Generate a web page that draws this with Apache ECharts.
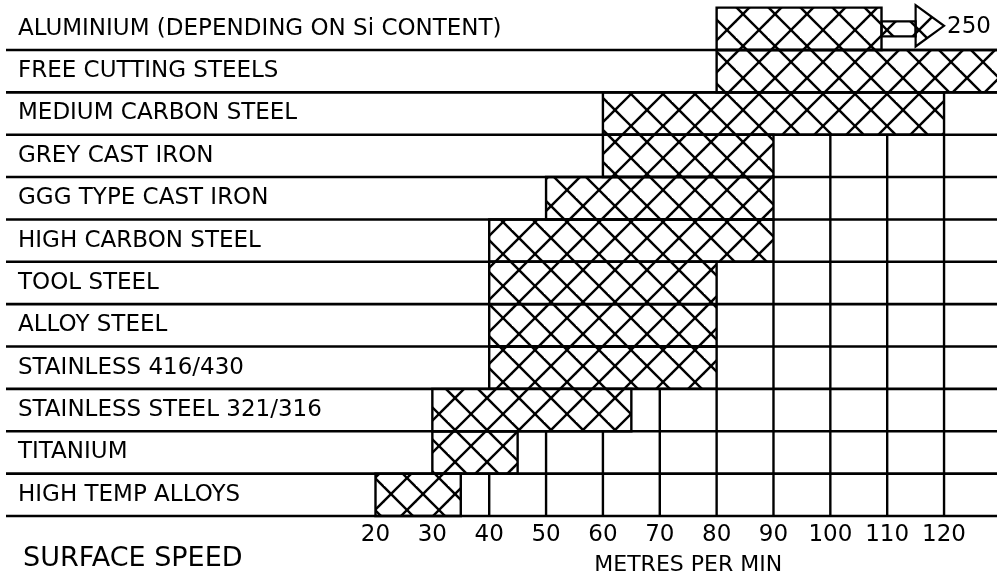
<!DOCTYPE html>
<html>
<head>
<meta charset="utf-8">
<script src="https://cdn.jsdelivr.net/npm/echarts@6.0.0/dist/echarts.min.js"></script>
<style>
  html, body { margin: 0; padding: 0; background: #fff; }
  #chart { width: 997px; height: 581px; }
</style>
</head>
<body>
<div id="chart"></div>
<script>
// data (metres per min)
const materials = [
  'ALUMINIUM (DEPENDING ON Si CONTENT)',
  'FREE CUTTING STEELS',
  'MEDIUM CARBON STEEL',
  'GREY CAST IRON',
  'GGG TYPE CAST IRON',
  'HIGH CARBON STEEL',
  'TOOL STEEL',
  'ALLOY STEEL',
  'STAINLESS 416/430',
  'STAINLESS STEEL 321/316',
  'TITANIUM',
  'HIGH TEMP ALLOYS'
];
const speedFrom = [80, 80, 60, 60, 50, 40, 40, 40, 40, 30, 30, 20];
const speedTo = [109, 130, 120, 90, 90, 90, 80, 80, 80, 65, 45, 35];
const tickValues = [20, 30, 40, 50, 60, 70, 80, 90, 100, 110, 120];

// aluminium runs off the chart: arrow pointing to 250
const arrowRow = 0;
const arrowHeadAt = 115;
const arrowTipAt = 120;
const arrowLabel = '250';

const ink = '#000';
const font = 'DejaVu Sans';

// cross hatch tile
const hatchTile = document.createElement('canvas');
hatchTile.width = 32;
hatchTile.height = 32;
(function () {
  const ctx = hatchTile.getContext('2d');
  ctx.strokeStyle = ink;
  ctx.lineWidth = 2.4;
  for (let k = -2; k <= 2; k++) {
    ctx.beginPath();
    ctx.moveTo(-4, -4 + 7 + 32 * k);
    ctx.lineTo(36, 36 + 7 + 32 * k);
    ctx.stroke();
    ctx.beginPath();
    ctx.moveTo(-4, 4 + 21 + 32 * k);
    ctx.lineTo(36, -36 + 21 + 32 * k);
    ctx.stroke();
  }
})();
const hatch = { image: hatchTile, repeat: 'repeat' };

const rows = materials.map((m, i) => [i, speedFrom[i], speedTo[i]]);

function renderRow(params, api) {
  const row = api.value(0);
  const from = api.coord([api.value(1), row]);
  const to = api.coord([api.value(2), row]);
  const h = api.size([0, 1])[1];
  const cy = from[1];
  const top = cy - h / 2;
  const bottom = cy + h / 2;
  const children = [];

  children.push({
    type: 'rect',
    z2: 1,
    shape: { x: from[0], y: top, width: to[0] - from[0], height: h },
    style: { fill: hatch, stroke: ink, lineWidth: 2.4 }
  });

  if (row === arrowRow) {
    const headX = api.coord([arrowHeadAt, row])[0];
    const tipX = api.coord([arrowTipAt, row])[0];
    const headTop = top - 2.5;
    const headBottom = bottom - 3.5;
    const tipY = (headTop + headBottom) / 2;
    children.push({
      type: 'rect',
      z2: 2,
      shape: { x: to[0], y: cy - 7.5, width: headX - to[0], height: 15 },
      style: { fill: hatch, stroke: ink, lineWidth: 2.2 }
    });
    children.push({
      type: 'polygon',
      z2: 3,
      shape: { points: [[headX, headTop], [tipX, tipY], [headX, headBottom]] },
      style: { fill: hatch, stroke: ink, lineWidth: 2.2 }
    });
    children.push({
      type: 'text',
      z2: 3,
      style: {
        text: arrowLabel, x: tipX + 3, y: tipY + 1.5,
        font: '23px "' + font + '"', fill: ink,
        align: 'left', verticalAlign: 'middle'
      }
    });
  } else {
    tickValues.filter(t => t > api.value(2)).forEach(t => {
      const x = api.coord([t, row])[0];
      children.push({
        type: 'line',
        z2: 5,
        shape: { x1: x, y1: top, x2: x, y2: bottom },
        style: { stroke: ink, lineWidth: 2.4 }
      });
    });
  }

  // row separator
  children.push({
    type: 'line',
    z2: 10,
    shape: { x1: 6, y1: bottom, x2: api.getWidth(), y2: bottom },
    style: { stroke: ink, lineWidth: 2.6 }
  });

  return { type: 'group', children };
}

const chart = echarts.init(document.getElementById('chart'), null, { renderer: 'canvas' });

const option = {
  animation: false,
  backgroundColor: '#fff',
  grid: {
    left: 375.5, width: 625.4, top: 7.6, bottom: 65,
    containLabel: false, outerBoundsMode: 'none'
  },
  xAxis: {
    type: 'value',
    min: 20,
    max: 130,
    interval: 10,
    axisLine: { show: false },
    axisTick: { show: false },
    splitLine: { show: false },
    axisLabel: {
      margin: 8,
      color: ink,
      fontFamily: font,
      fontSize: 23,
      formatter: v => (tickValues.indexOf(v) >= 0 ? String(v) : '')
    },
    name: 'METRES PER MIN',
    nameLocation: 'middle',
    nameGap: 38,
    nameTextStyle: { color: ink, fontFamily: font, fontSize: 22 }
  },
  yAxis: {
    type: 'category',
    inverse: true,
    data: materials,
    axisLine: { show: false },
    axisTick: { show: false },
    splitLine: { show: false },
    axisLabel: {
      align: 'left',
      margin: 357.5,
      color: ink,
      fontFamily: font,
      fontSize: 23,
      padding: [6, 0, 0, 0]
    }
  },
  graphic: [{
    type: 'text',
    style: {
      text: 'SURFACE SPEED', x: 23, y: 559,
      font: '27px "' + font + '"', fill: ink,
      align: 'left', verticalAlign: 'middle'
    }
  }],
  series: [{
    type: 'custom',
    clip: false,
    renderItem: renderRow,
    encode: { x: [1, 2], y: 0 },
    data: rows
  }]
};

chart.setOption(option);
</script>
</body>
</html>
